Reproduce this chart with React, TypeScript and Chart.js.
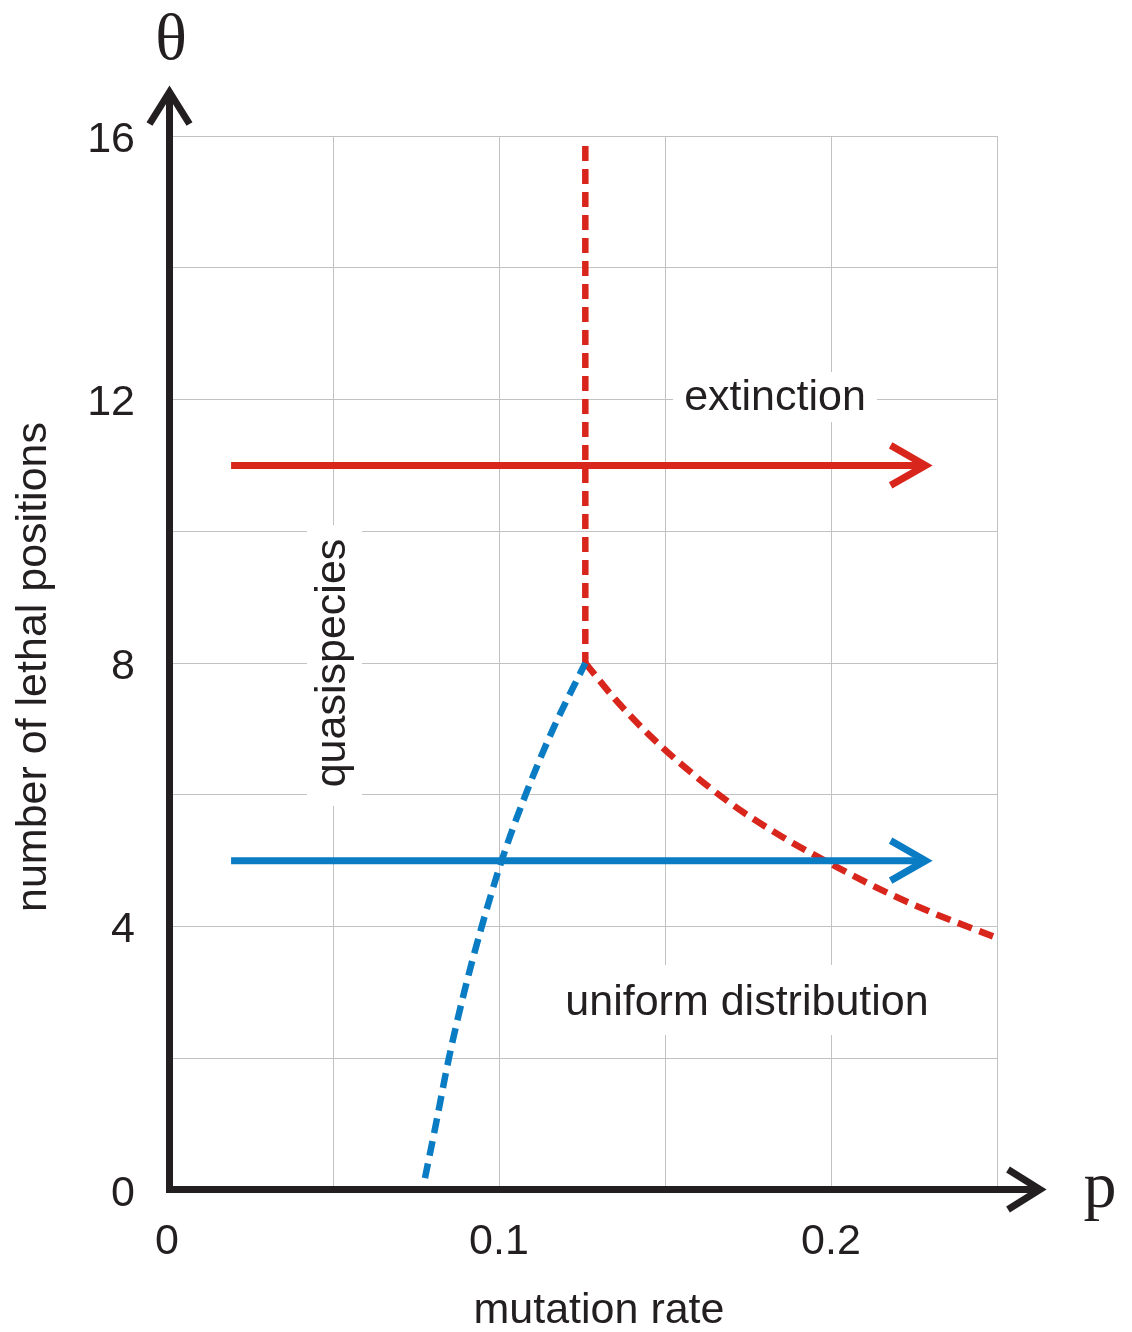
import React, { useEffect, useRef } from 'react';
import { Chart, registerables } from 'chart.js';

Chart.register(...registerables);

// Tick labels shown on the axes (grid lines are drawn at every step)
const xTickLabels = ['0', '0.1', '0.2'];
const yTickLabels = ['0', '4', '8', '12', '16'];

// Quasispecies / uniform distribution boundary (blue, dashed)
const blueBoundaryP = [0.0777, 0.081, 0.0849, 0.0895, 0.0948, 0.1008, 0.108, 0.1163, 0.126];
const blueBoundaryTheta = [0.18, 1.0, 2.0, 3.0, 4.0, 5.0, 6.0, 7.0, 8.0];

// Extinction threshold, vertical branch (red, dashed)
const redVerticalP = [0.126, 0.126];
const redVerticalTheta = [15.85, 8.0];

// Extinction threshold, decaying branch (red, dashed)
const redCurveP = [0.126, 0.135, 0.145, 0.155, 0.17, 0.185, 0.2, 0.215, 0.23, 0.2488];
const redCurveTheta = [8.0, 7.45, 6.92, 6.46, 5.86, 5.37, 4.95, 4.56, 4.22, 3.85];

// Horizontal sweeps in mutation rate (solid arrows)
const sweepP = [0.0193, 0.2285];
const redSweepTheta = [11, 11];
const blueSweepTheta = [5, 5];

const RED = '#d9261c';
const BLUE = '#0a7cc4';
const INK = '#231f20';
const GRID = '#c2c2c2';
const SANS = "'Liberation Sans', Arial, sans-serif";
const SERIF = "'Liberation Serif', 'Times New Roman', serif";
const FONT_SIZE = 43;

const toPoints = (xs: number[], ys: number[]) => xs.map((x, i) => ({ x, y: ys[i] }));

const labelFor = (labels: string[]) => (value: number | string) => {
  const v = Number(value);
  const hit = labels.find((l) => Math.abs(Number(l) - v) < 1e-9);
  return hit === undefined ? '' : hit;
};

function chevron(
  ctx: CanvasRenderingContext2D,
  tipX: number,
  tipY: number,
  dirX: number,
  dirY: number,
  back: number,
  half: number,
  width: number,
  color: string
) {
  const px = -dirY;
  const py = dirX;
  ctx.save();
  ctx.strokeStyle = color;
  ctx.lineWidth = width;
  ctx.lineJoin = 'miter';
  ctx.lineCap = 'butt';
  ctx.beginPath();
  ctx.moveTo(tipX - dirX * back + px * half, tipY - dirY * back + py * half);
  ctx.lineTo(tipX, tipY);
  ctx.lineTo(tipX - dirX * back - px * half, tipY - dirY * back - py * half);
  ctx.stroke();
  ctx.restore();
}

// Region labels with white boxes that mask the grid behind them
const regionLabels = [
  { text: 'extinction', x: 775, y: 410, rotate: false, box: [673, 372, 877, 422] },
  { text: 'uniform distribution', x: 747, y: 1015, rotate: false, box: [555, 965, 940, 1035] },
  { text: 'quasispecies', x: 345, y: 663, rotate: true, box: [307, 525, 362, 806] },
];

const phasePlugin = {
  id: 'phaseDiagram',
  beforeDatasetsDraw(chart: any) {
    const { ctx } = chart;
    ctx.save();
    ctx.fillStyle = '#ffffff';
    for (const r of regionLabels) {
      const [x0, y0, x1, y1] = r.box;
      ctx.fillRect(x0, y0, x1 - x0, y1 - y0);
    }
    ctx.fillStyle = INK;
    ctx.font = `${FONT_SIZE}px ${SANS}`;
    ctx.textBaseline = 'alphabetic';
    ctx.textAlign = 'center';
    for (const r of regionLabels) {
      if (r.rotate) {
        ctx.save();
        ctx.translate(r.x, r.y);
        ctx.rotate(-Math.PI / 2);
        ctx.fillText(r.text, 0, 0);
        ctx.restore();
      } else {
        ctx.fillText(r.text, r.x, r.y);
      }
    }
    ctx.restore();
  },
  afterDatasetsDraw(chart: any) {
    const { ctx, scales } = chart;
    const xs = scales.x;
    const ys = scales.y;

    // arrowheads on the solid sweep lines
    chart.data.datasets.forEach((ds: any, i: number) => {
      if (!ds.arrowHead) return;
      const meta = chart.getDatasetMeta(i);
      const last = meta.data[meta.data.length - 1];
      chevron(ctx, last.x, last.y, 1, 0, 35, 20, 7, ds.borderColor);
    });

    // coordinate axes with arrowheads
    const ax = xs.getPixelForValue(0) + 2.5;
    const ay = ys.getPixelForValue(0) - 0.5;
    const yTip = 92;
    const xTip = 1040;
    ctx.save();
    ctx.strokeStyle = INK;
    ctx.lineWidth = 7;
    ctx.lineJoin = 'miter';
    ctx.lineCap = 'butt';
    ctx.beginPath();
    ctx.moveTo(ax, yTip);
    ctx.lineTo(ax, ay);
    ctx.lineTo(xTip, ay);
    ctx.stroke();
    ctx.restore();
    chevron(ctx, ax, yTip, 0, -1, 32, 20, 7, INK);
    chevron(ctx, xTip, ay, 1, 0, 32, 20, 7, INK);

    // axis symbols and titles
    ctx.save();
    ctx.fillStyle = INK;
    ctx.textAlign = 'center';
    ctx.textBaseline = 'alphabetic';
    ctx.font = `66px ${SERIF}`;
    ctx.fillText('θ', 171, 59);
    ctx.fillText('p', 1100, 1207);
    ctx.font = `${FONT_SIZE}px ${SANS}`;
    ctx.fillText('mutation rate', 599, 1323);
    ctx.translate(46, 667);
    ctx.rotate(-Math.PI / 2);
    ctx.fillText('number of lethal positions', 0, 0);
    ctx.restore();
  },
};

export default function App() {
  const canvasRef = useRef<HTMLCanvasElement | null>(null);

  useEffect(() => {
    const canvas = canvasRef.current;
    if (!canvas) return;

    const dashed = {
      showLine: true,
      pointRadius: 0,
      borderWidth: 6.5,
      borderDash: [15, 8],
      borderCapStyle: 'butt',
      fill: false,
    };
    const solid = {
      showLine: true,
      pointRadius: 0,
      borderWidth: 7,
      borderCapStyle: 'butt',
      fill: false,
      arrowHead: true,
    };

    const chart = new Chart(canvas, {
      type: 'scatter',
      data: {
        datasets: [
          { ...solid, label: 'sweep θ=11', data: toPoints(sweepP, redSweepTheta), borderColor: RED },
          { ...solid, label: 'sweep θ=5', data: toPoints(sweepP, blueSweepTheta), borderColor: BLUE },
          {
            ...dashed,
            label: 'quasispecies boundary',
            data: toPoints(blueBoundaryP, blueBoundaryTheta),
            borderColor: BLUE,
            cubicInterpolationMode: 'monotone',
          },
          {
            ...dashed,
            label: 'extinction (vertical)',
            data: toPoints(redVerticalP, redVerticalTheta),
            borderColor: RED,
          },
          {
            ...dashed,
            label: 'extinction (curve)',
            data: toPoints(redCurveP, redCurveTheta),
            borderColor: RED,
            cubicInterpolationMode: 'monotone',
          },
        ] as any,
      },
      options: {
        responsive: false,
        animation: false,
        layout: { padding: { left: 0, top: 136, right: 135, bottom: 0 } },
        plugins: {
          legend: { display: false },
          tooltip: { enabled: false },
        },
        scales: {
          x: {
            type: 'linear',
            min: 0,
            max: 0.25,
            afterFit: (s: any) => {
              s.height = 142;
            },
            border: { display: false },
            grid: { color: GRID, lineWidth: 1, drawTicks: false },
            ticks: {
              stepSize: 0.05,
              autoSkip: false,
              maxRotation: 0,
              padding: 26,
              color: INK,
              font: { family: SANS, size: FONT_SIZE },
              callback: labelFor(xTickLabels),
            },
          },
          y: {
            type: 'linear',
            min: 0,
            max: 16,
            afterFit: (s: any) => {
              s.width = 167;
            },
            border: { display: false },
            grid: { color: GRID, lineWidth: 1, drawTicks: false },
            ticks: {
              stepSize: 2,
              autoSkip: false,
              padding: 32,
              labelOffset: 4,
              color: INK,
              font: { family: SANS, size: FONT_SIZE },
              callback: labelFor(yTickLabels),
            },
          },
        },
      } as any,
      plugins: [phasePlugin],
    });

    return () => chart.destroy();
  }, []);

  return (
    <div style={{ position: 'absolute', left: 0, top: 0, width: 1132, height: 1332, background: '#ffffff' }}>
      <canvas ref={canvasRef} width={1132} height={1332} style={{ display: 'block' }} />
    </div>
  );
}
